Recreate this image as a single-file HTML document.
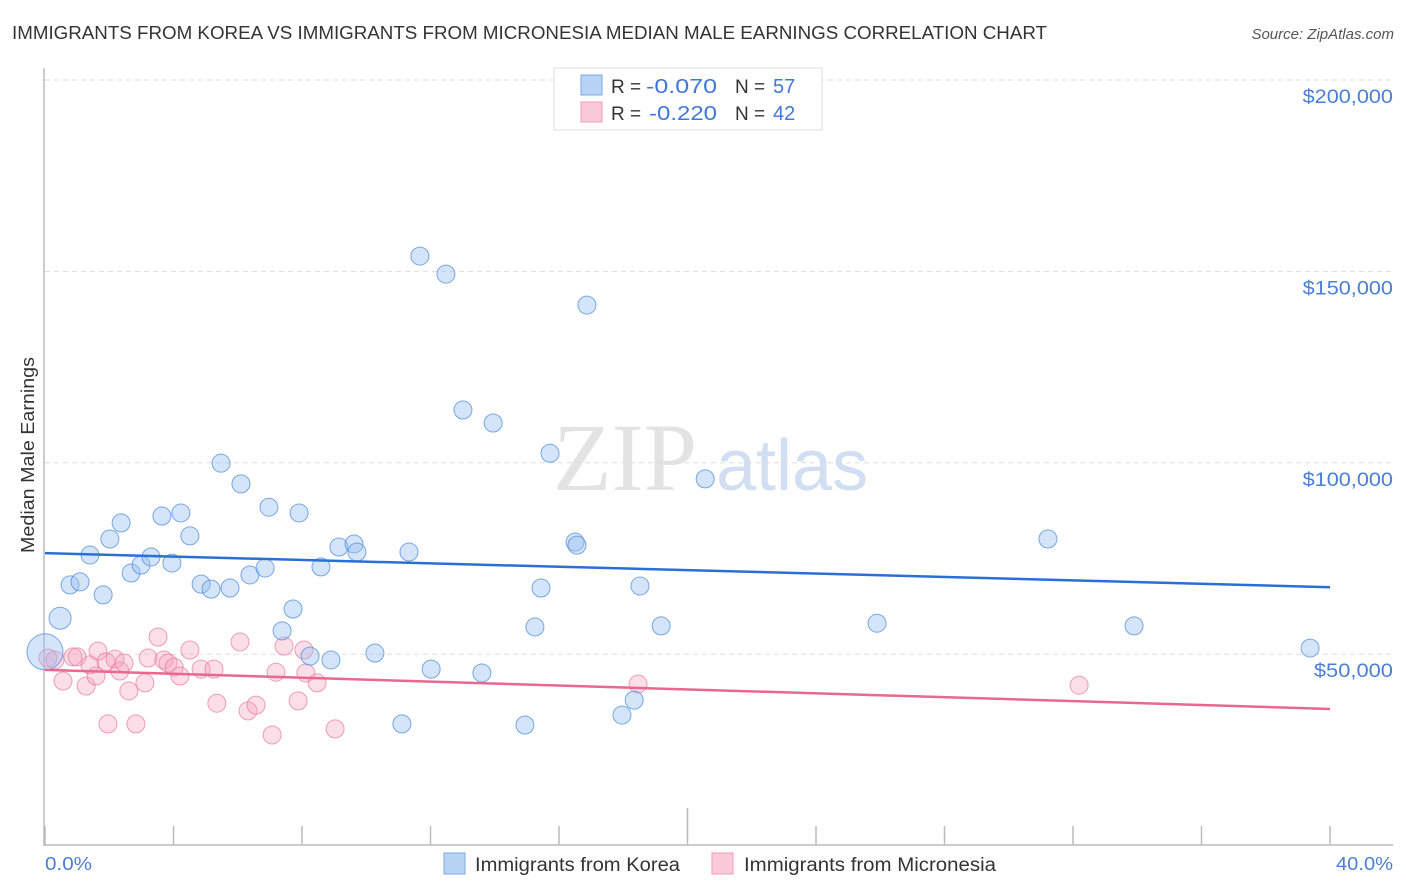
<!DOCTYPE html>
<html><head><meta charset="utf-8"><style>
body{margin:0;background:#fff;font-family:"Liberation Sans",sans-serif;}
svg{display:block}
</style></head><body>
<svg id="chart" width="1406" height="892" xmlns="http://www.w3.org/2000/svg">
<text x="12" y="39" font-size="18" fill="#333" textLength="1035" lengthAdjust="spacingAndGlyphs">IMMIGRANTS FROM KOREA VS IMMIGRANTS FROM MICRONESIA MEDIAN MALE EARNINGS CORRELATION CHART</text>
<text x="1394" y="39" font-size="15" fill="#555" font-style="italic" text-anchor="end">Source: ZipAtlas.com</text>
<text x="553" y="490" font-size="96" font-family="Liberation Serif,serif" fill="#ddd" opacity="0.8">ZIP</text>
<text x="716" y="490" font-size="72" fill="#c8d8ef" opacity="0.8">atlas</text>
<g id="grid"></g>
<line x1="44" y1="68" x2="44" y2="846" stroke="#bbb" stroke-width="1.5"/>
<line x1="44" y1="845" x2="1393" y2="845" stroke="#bbb" stroke-width="1.5"/>
<g id="ticks"></g>
<text transform="translate(34,455) rotate(-90)" font-size="18" fill="#333" text-anchor="middle" textLength="196" lengthAdjust="spacingAndGlyphs">Median Male Earnings</text>
<text x="45" y="870" font-size="18" fill="#4a7fd4" textLength="47" lengthAdjust="spacingAndGlyphs">0.0%</text>
<text x="1336" y="870" font-size="18" fill="#4a7fd4" textLength="57" lengthAdjust="spacingAndGlyphs">40.0%</text>
<g id="points"></g>
<g id="trends"></g>
<g>
<rect x="554" y="68" width="268" height="62" fill="#fff" stroke="#ddd"/>
<rect x="581" y="75" width="21" height="20" fill="#b9d3f5" stroke="#7aaae6"/>
<rect x="581" y="102" width="21" height="20" fill="#fbcad8" stroke="#f09ab5"/>
<text x="611" y="93" font-size="19" fill="#333">R =</text>
<text x="646" y="93" font-size="20" fill="#3f78d6" textLength="71" lengthAdjust="spacingAndGlyphs">-0.070</text>
<text x="735" y="93" font-size="19" fill="#333">N =</text>
<text x="773" y="93" font-size="20" fill="#3f78d6">57</text>
<text x="611" y="120" font-size="19" fill="#333">R =</text>
<text x="649" y="120" font-size="20" fill="#3f78d6" textLength="68" lengthAdjust="spacingAndGlyphs">-0.220</text>
<text x="735" y="120" font-size="19" fill="#333">N =</text>
<text x="773" y="120" font-size="20" fill="#3f78d6">42</text>
</g>
<g>
<rect x="444" y="853" width="21" height="21" fill="#b9d3f5" stroke="#7aaae6"/>
<text x="475" y="871" font-size="19" fill="#333" textLength="205" lengthAdjust="spacingAndGlyphs">Immigrants from Korea</text>
</g>
<g>
<rect x="712" y="853" width="21" height="21" fill="#fbcad8" stroke="#f09ab5"/>
<text x="744" y="871" font-size="19" fill="#333" textLength="252" lengthAdjust="spacingAndGlyphs">Immigrants from Micronesia</text>
</g>
</svg>
<script>
const yTicks=[50,100,150,200];
const yTickLabels=["$50,000","$100,000","$150,000","$200,000"];
const xTicks=[0,4,8,12,16,20,24,28,32,36,40];
const koreaX=[0.00,0.47,0.78,1.09,1.40,1.81,2.02,2.37,2.68,2.99,3.30,3.64,3.95,4.23,4.51,4.86,5.17,5.48,5.76,6.10,6.38,6.85,6.97,7.38,7.72,7.91,8.25,8.59,8.90,9.15,9.62,9.71,10.27,11.11,11.33,11.67,12.02,12.48,13.01,13.60,13.95,14.94,15.25,15.44,15.72,16.50,16.56,16.87,17.96,18.34,18.52,19.18,20.55,25.90,31.22,33.90,39.38];
const koreaY=[50.6,59.4,68.1,68.9,75.9,65.5,80.1,84.3,71.2,73.3,75.4,86.1,73.8,86.9,80.9,68.3,67.0,99.9,67.3,94.5,70.7,72.5,88.4,56.1,61.8,86.9,49.5,72.8,48.5,78.0,78.8,76.7,50.3,31.8,76.7,154.0,46.1,149.3,113.8,45.1,110.4,31.5,57.1,67.3,102.5,79.3,78.5,141.2,34.1,38.0,67.8,57.4,95.8,58.1,80.1,57.4,51.6];
const microX=[0.09,0.31,0.56,0.87,1.00,1.28,1.40,1.65,1.59,1.90,1.96,2.18,2.33,2.46,2.61,2.83,3.11,3.21,3.52,3.70,3.83,4.02,4.20,4.51,4.86,5.26,5.35,6.07,6.32,6.57,7.07,7.19,7.44,7.88,8.06,8.12,8.47,9.03,18.46,32.19];
const microY=[49.0,48.5,43.0,49.3,49.3,41.7,47.2,50.8,44.3,48.0,31.8,48.7,45.6,47.7,40.4,31.8,42.5,49.0,54.5,48.5,47.7,46.6,44.3,51.1,46.1,46.1,37.2,53.2,35.2,36.7,28.9,45.3,52.1,37.8,51.1,45.1,42.5,30.5,42.2,41.9];
const trendX=[0,40];
const koreaTrend=[76.4,67.5];
const microTrend=[45.9,35.7];
const NS="http://www.w3.org/2000/svg";
const xs=v=>45+v/40*1285;
const ys=v=>845.6-v/50*191.4;
function mk(t,a,p){const e=document.createElementNS(NS,t);for(const k in a)e.setAttribute(k,a[k]);p.appendChild(e);return e;}
const grid=document.getElementById('grid');
yTicks.forEach((t,i)=>{
  const l=mk('line',{x1:45,x2:1393,y1:ys(t),y2:ys(t),stroke:'#ddd','stroke-dasharray':'5,4'},grid);
  
  
  const tx=mk('text',{x:1393,y:ys(t)+23,'font-size':19,fill:'#4a7fd4','text-anchor':'end',textLength:yTickLabels[i].length*11.3,lengthAdjust:'spacingAndGlyphs'},grid);
  tx.textContent=yTickLabels[i];
  
  
});
const tk=document.getElementById('ticks');
xTicks.forEach((t,i)=>{
  const l=mk('line',{x1:xs(t),x2:xs(t),y1:(i==5)?808:826,y2:845,stroke:'#bbb','stroke-width':1.5},tk);
  
  
});
const pts=document.getElementById('points');
microX.forEach((x,i)=>{
  const c=mk('circle',{cx:xs(x),cy:ys(microY[i]),r:9,fill:'rgba(246,160,190,0.35)',stroke:'rgba(232,120,160,0.7)','stroke-width':1},pts);
  
  
});
koreaX.forEach((x,i)=>{
  const r=i==0?18:(i==1?11:9);
  const c=mk('circle',{cx:xs(x),cy:ys(koreaY[i]),r:r,fill:'rgba(150,190,240,0.4)',stroke:'rgba(80,140,220,0.75)','stroke-width':1},pts);
  
  
});
const tr=document.getElementById('trends');
const l1=mk('line',{x1:xs(trendX[0]),x2:xs(trendX[1]),y1:ys(koreaTrend[0]),y2:ys(koreaTrend[1]),stroke:'#2a6fd6','stroke-width':2.5},tr);


const l2=mk('line',{x1:xs(trendX[0]),x2:xs(trendX[1]),y1:ys(microTrend[0]),y2:ys(microTrend[1]),stroke:'#e8688f','stroke-width':2.5},tr);


</script>
</body></html>
